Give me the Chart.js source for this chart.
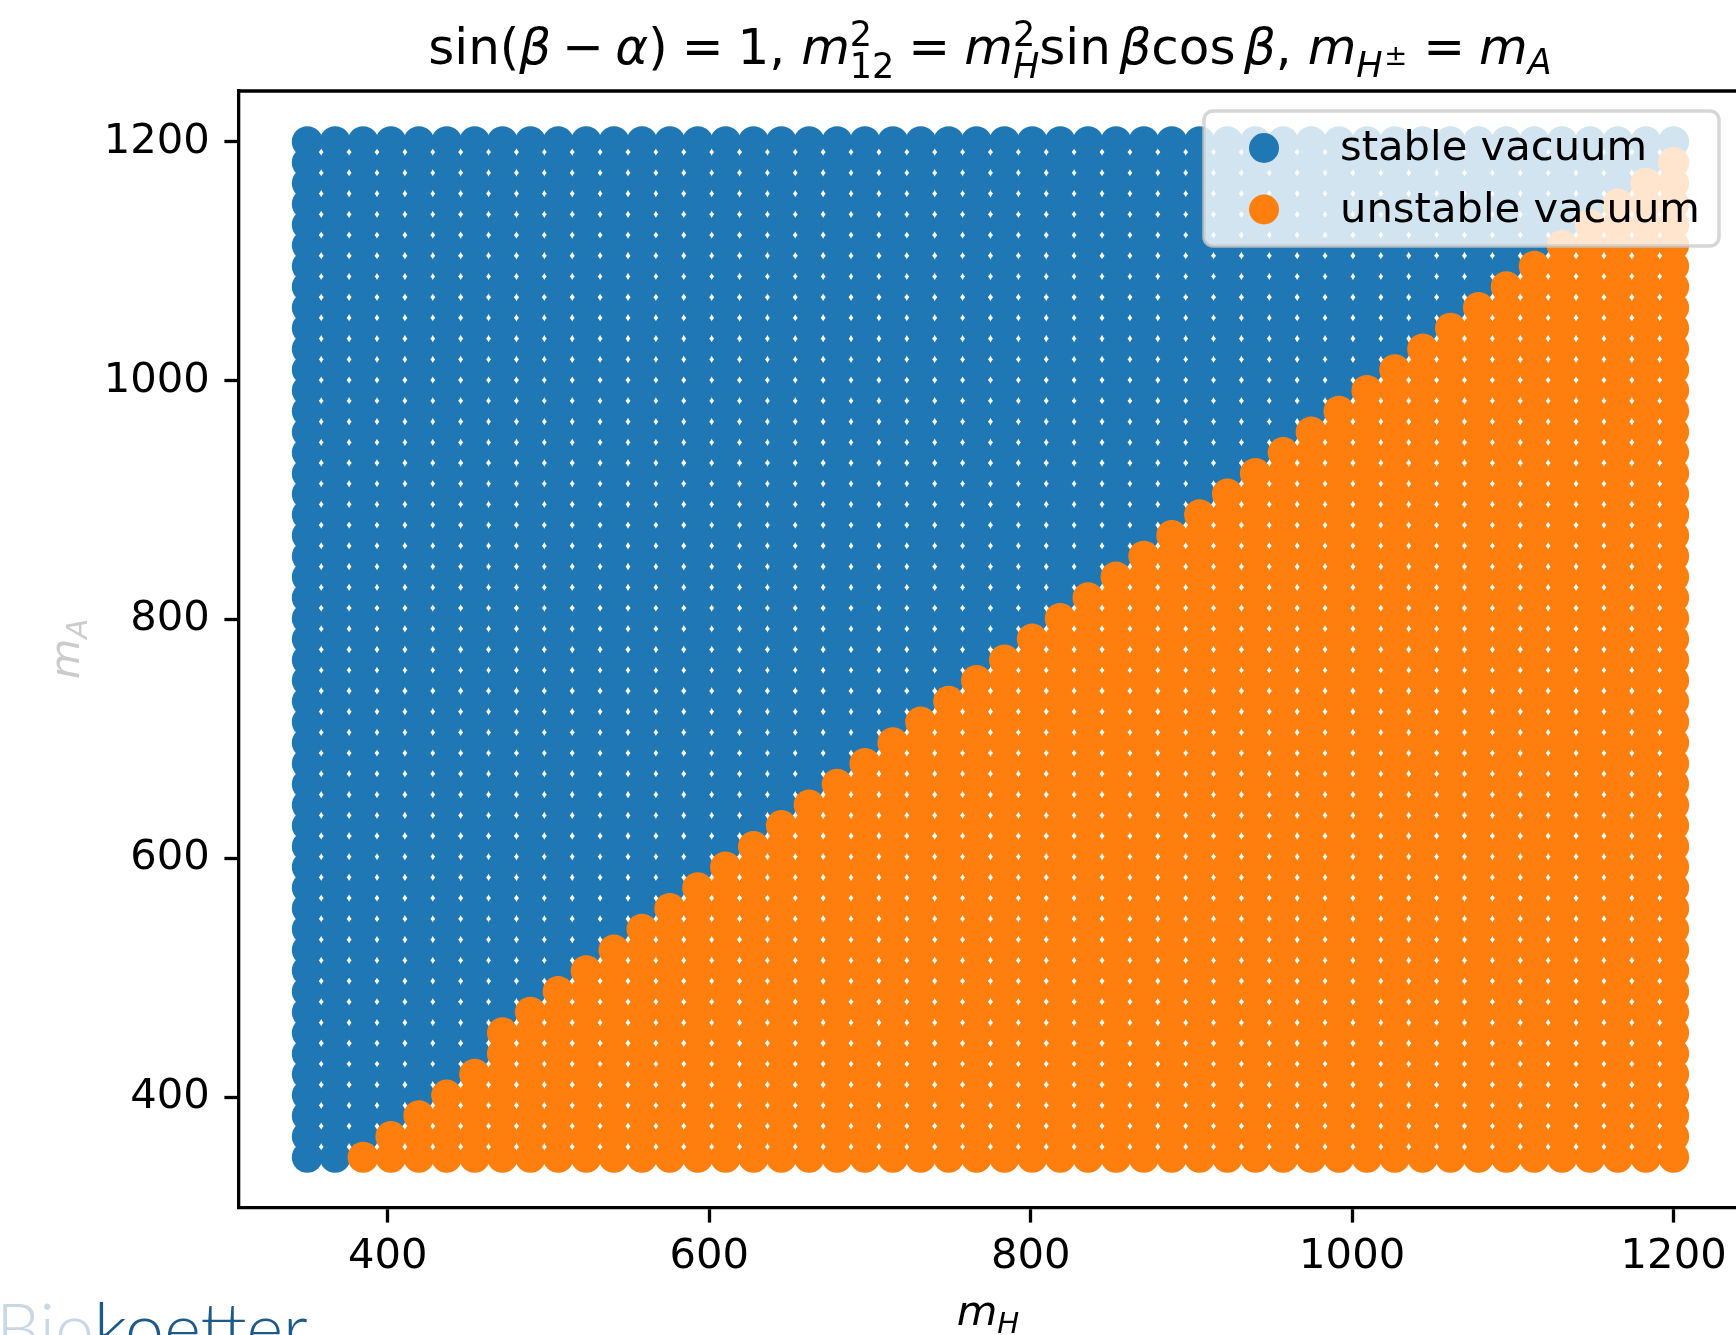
<!DOCTYPE html>
<html>
<head>
<meta charset="utf-8">
<script src="https://cdn.jsdelivr.net/npm/chart.js@4.4.0/dist/chart.umd.min.js"></script>
<style>
  html, body { margin: 0; padding: 0; background: #fff; overflow: hidden; }
  canvas { display: block; }
</style>
</head>
<body>
<canvas id="vacuumChart" width="1736" height="1335"></canvas>
<script>
// scan grid (50 x 50 points)
const mHGrid = [350.0, 367.3, 384.7, 402.0, 419.4, 436.7, 454.1, 471.4, 488.8, 506.1,
                523.5, 540.8, 558.2, 575.5, 592.9, 610.2, 627.6, 644.9, 662.2, 679.6,
                696.9, 714.3, 731.6, 749.0, 766.3, 783.7, 801.0, 818.4, 835.7, 853.1,
                870.4, 887.8, 905.1, 922.4, 939.8, 957.1, 974.5, 991.8, 1009.2, 1026.5,
                1043.9, 1061.2, 1078.6, 1095.9, 1113.3, 1130.6, 1148.0, 1165.3, 1182.7, 1200.0];
const mAGrid = [350.0, 367.3, 384.7, 402.0, 419.4, 436.7, 454.1, 471.4, 488.8, 506.1,
                523.5, 540.8, 558.2, 575.5, 592.9, 610.2, 627.6, 644.9, 662.2, 679.6,
                696.9, 714.3, 731.6, 749.0, 766.3, 783.7, 801.0, 818.4, 835.7, 853.1,
                870.4, 887.8, 905.1, 922.4, 939.8, 957.1, 974.5, 991.8, 1009.2, 1026.5,
                1043.9, 1061.2, 1078.6, 1095.9, 1113.3, 1130.6, 1148.0, 1165.3, 1182.7, 1200.0];
// number of lowest mA rows that are unstable, one entry per mH column
const unstableRows = [0, 0, 1, 2, 3, 4, 5, 7, 8, 9,
                      10, 11, 12, 13, 14, 15, 16, 17, 18, 19,
                      20, 21, 22, 23, 24, 25, 26, 27, 28, 29,
                      30, 31, 32, 33, 34, 35, 36, 37, 38, 39,
                      40, 41, 42, 43, 44, 45, 46, 47, 48, 49];
const xTicks = [400, 600, 800, 1000, 1200];
const yTicks = [400, 600, 800, 1000, 1200];
const seriesLabels = ["stable vacuum", "unstable vacuum"];
const seriesColors = ["#1f77b4", "#ff7f0e"];

// split the grid into the two classes
const stablePoints = [];
const unstablePoints = [];
mHGrid.forEach((mH, i) => {
    mAGrid.forEach((mA, j) => {
        if (j < unstableRows[i]) unstablePoints.push({ x: mH, y: mA });
        else stablePoints.push({ x: mH, y: mA });
    });
});

const FONT = '"DejaVu Sans"';

// title and axis labels with sub/superscripts
const titleParts = [
    { t: "sin" }, { t: "(" }, { t: "β", it: 1 }, { t: "−", gap: 0.22 }, { t: "α", it: 1, gap: 0.22 }, { t: ")" },
    { t: "=", gap: 0.28 }, { t: "1", gap: 0.28 }, { t: "," }, { t: " " },
    { t: "m", it: 1 }, { t: "2", sc: 0.7, dy: -0.36 }, { t: "12", sc: 0.7, dy: 0.27, stack: 1 },
    { t: "=", gap: 0.28 }, { t: "m", it: 1, gap: 0.28 }, { t: "2", sc: 0.7, dy: -0.36 }, { t: "H", it: 1, sc: 0.7, dy: 0.27, stack: 1 },
    { t: "sin" }, { t: "β", it: 1, gap: 0.17 }, { t: "cos" }, { t: "β", it: 1, gap: 0.17 },
    { t: "," }, { t: " " },
    { t: "m", it: 1 }, { t: "H", it: 1, sc: 0.7, dy: 0.26 }, { t: "±", sc: 0.55, dy: 0.02, gap: 0.03 },
    { t: "=", gap: 0.32 }, { t: "m", it: 1, gap: 0.28 }, { t: "A", it: 1, sc: 0.7, dy: 0.2 }
];
const xLabelParts = [{ t: "m", it: 1 }, { t: "H", it: 1, sc: 0.7, dy: 0.2 }];
const yLabelParts = [{ t: "m", it: 1 }, { t: "A", it: 1, sc: 0.7, dy: 0.2 }];

function layoutRich(ctx, parts, size) {
    let x = 0, lastStart = 0;
    const items = [];
    parts.forEach(p => {
        const fs = size * (p.sc || 1);
        const font = (p.it ? "italic " : "") + fs + "px " + FONT;
        ctx.font = font;
        const w = ctx.measureText(p.t).width;
        let x0;
        if (p.stack) {
            x0 = lastStart;
            x = Math.max(x, x0 + w);
        } else {
            x += (p.gap || 0) * size;
            x0 = x;
            x += w;
        }
        items.push({ t: p.t, font, x0, dy: (p.dy || 0) * size });
        lastStart = x0;
    });
    return { items, width: x };
}

function drawRich(ctx, parts, size, cx, baseline, color) {
    const lay = layoutRich(ctx, parts, size);
    const left = cx - lay.width / 2;
    ctx.fillStyle = color;
    ctx.textAlign = "left";
    ctx.textBaseline = "alphabetic";
    lay.items.forEach(it => {
        ctx.font = it.font;
        ctx.fillText(it.t, left + it.x0, baseline + it.dy);
    });
}

const decorations = {
    id: "decorations",
    afterDraw(chart) {
        const ctx = chart.ctx;
        const area = chart.chartArea;
        ctx.save();

        // top spine
        ctx.strokeStyle = "#000";
        ctx.lineWidth = 3.3;
        ctx.beginPath();
        ctx.moveTo(area.left - 1.6, area.top);
        ctx.lineTo(area.right + 2, area.top);
        ctx.stroke();

        drawRich(ctx, titleParts, 50, 990, 64, "#000");
        drawRich(ctx, xLabelParts, 41.7, 988, 1325, "#000");

        ctx.save();
        ctx.translate(79, 649);
        ctx.rotate(-Math.PI / 2);
        drawRich(ctx, yLabelParts, 41.7, 0, 0, "#cbcbcb");
        ctx.restore();

        // legend inside the axes
        const lg = { x: 1204, y: 111, w: 515, h: 135, r: 9 };
        ctx.beginPath();
        ctx.roundRect(lg.x, lg.y, lg.w, lg.h, lg.r);
        ctx.fillStyle = "rgba(255,255,255,0.8)";
        ctx.fill();
        ctx.strokeStyle = "rgba(204,204,204,0.8)";
        ctx.lineWidth = 3.5;
        ctx.stroke();
        seriesLabels.forEach((label, k) => {
            const cy = 148 + k * 61.5;
            ctx.beginPath();
            ctx.arc(1264, cy, 15, 0, Math.PI * 2);
            ctx.fillStyle = seriesColors[k];
            ctx.fill();
            ctx.fillStyle = "#000";
            ctx.font = "41.7px " + FONT;
            ctx.textAlign = "left";
            ctx.textBaseline = "alphabetic";
            ctx.fillText(label, 1340, 160 + k * 61.5);
        });

        // watermark, cut by the bottom edge
        ctx.font = "300 70px Lato";
        ctx.textAlign = "left";
        ctx.textBaseline = "alphabetic";
        ctx.fillStyle = "#c9d8e4";
        ctx.fillText("Bio", -4, 1354);
        const wBio = ctx.measureText("Bio").width;
        ctx.fillStyle = "#1d5a8a";
        ctx.fillText("koetter", -4 + wBio, 1354);

        ctx.restore();
    }
};

const axisCommon = {
    type: "linear",
    grid: {
        drawOnChartArea: false,
        drawTicks: true,
        tickLength: 14.6,
        tickWidth: 3.3,
        tickColor: "#000"
    },
    border: { display: true, width: 3.3, color: "#000" },
    ticks: {
        color: "#000",
        padding: 14.6,
        maxRotation: 0,
        font: { family: "DejaVu Sans", size: 41.7 },
        callback: v => String(v)
    }
};

const ctx = document.getElementById("vacuumChart").getContext("2d");
new Chart(ctx, {
    type: "scatter",
    data: {
        datasets: [
            {
                label: seriesLabels[0],
                data: stablePoints,
                backgroundColor: seriesColors[0],
                pointRadius: 15.5,
                pointHoverRadius: 15.5,
                pointBorderWidth: 0,
                order: 1
            },
            {
                label: seriesLabels[1],
                data: unstablePoints,
                backgroundColor: seriesColors[1],
                pointRadius: 15.5,
                pointHoverRadius: 15.5,
                pointBorderWidth: 0,
                order: 0
            }
        ]
    },
    options: {
        responsive: false,
        devicePixelRatio: 1,
        animation: false,
        events: [],
        layout: { autoPadding: false, padding: { top: 91, right: 0, bottom: 0, left: 0 } },
        plugins: {
            legend: { display: false },
            title: { display: false },
            tooltip: { enabled: false }
        },
        scales: {
            x: {
                ...axisCommon,
                min: 307.5,
                max: 1238.8,
                ticks: { ...axisCommon.ticks, padding: 10 },
                afterBuildTicks: s => { s.ticks = xTicks.map(v => ({ value: v })); },
                afterFit: s => { s.height = 127; s.paddingLeft = 0; s.paddingRight = 0; }
            },
            y: {
                ...axisCommon,
                min: 307.5,
                max: 1242.5,
                afterBuildTicks: s => { s.ticks = yTicks.map(v => ({ value: v })); },
                afterFit: s => { s.width = 239; s.paddingTop = 0; s.paddingBottom = 0; }
            }
        }
    },
    plugins: [decorations]
});
</script>
</body>
</html>
